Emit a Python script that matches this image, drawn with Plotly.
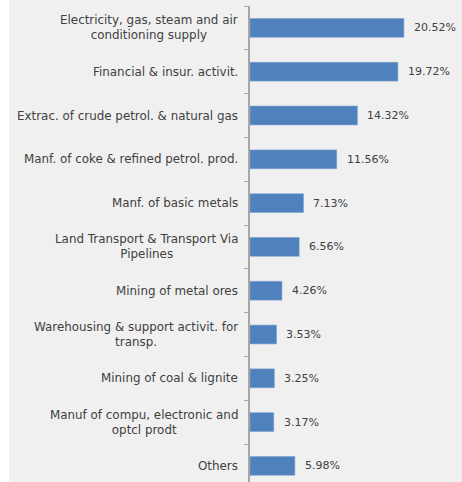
import plotly.graph_objects as go

# Sector shares (percent), listed top to bottom
sectors = [
    "Electricity, gas, steam and air<br>conditioning supply",
    "Financial & insur. activit.",
    "Extrac. of crude petrol. & natural gas",
    "Manf. of coke & refined petrol. prod.",
    "Manf. of basic metals",
    "Land Transport & Transport Via<br>Pipelines",
    "Mining of metal ores",
    "Warehousing & support activit. for<br>transp.",
    "Mining of coal & lignite",
    "Manuf of compu, electronic and<br>optcl prodt",
    "Others",
]
shares = [20.52, 19.72, 14.32, 11.56, 7.13, 6.56, 4.26, 3.53, 3.25, 3.17, 5.98]

BAR_COLOR = "#4F81BD"
TEXT_COLOR = "#404040"
BG = "#F0F0F0"
FONT = "DejaVu Sans"

W, H = 462, 482
LEFT, TOP = 250, 6
ROW_PX = 43.8
PX_PER_UNIT = 7.5

plot_h = H - TOP
plot_w = W - LEFT

fig = go.Figure(
    go.Bar(
        x=shares,
        y=sectors,
        orientation="h",
        marker=dict(color=BAR_COLOR, line=dict(color="#7FA3D3", width=0.6)),
        width=0.43,
        hoverinfo="skip",
    )
)

# Percentage labels just past each bar end
for name, v in zip(sectors, shares):
    fig.add_annotation(
        x=v, y=name, text=f"{v:.2f}%", showarrow=False,
        xanchor="left", yanchor="middle", xshift=8,
        font=dict(family=FONT, size=11, color=TEXT_COLOR),
    )

# Category names, centred line by line, to the left of the axis
for name in sectors:
    fig.add_annotation(
        xref="paper", x=0, y=name, text=name, showarrow=False,
        xanchor="right", yanchor="middle", align="center", xshift=-10,
        font=dict(family=FONT, size=11.9, color=TEXT_COLOR),
    )

# White strip along the left edge of the page
fig.add_shape(
    type="rect", xref="paper", yref="paper",
    x0=-LEFT / plot_w, x1=-(LEFT - 9) / plot_w, y0=-0.05, y1=1.05,
    fillcolor="white", line=dict(width=0), layer="below",
)

fig.update_layout(
    width=W, height=H,
    margin=dict(l=LEFT, r=0, t=TOP, b=0, autoexpand=False),
    paper_bgcolor=BG, plot_bgcolor=BG,
    showlegend=False,
    font=dict(family=FONT, size=12, color=TEXT_COLOR),
    xaxis=dict(
        range=[0, plot_w / PX_PER_UNIT],
        visible=False, showgrid=False, zeroline=False,
    ),
    yaxis=dict(
        type="category",
        categoryorder="array",
        categoryarray=sectors,
        showticklabels=False,
        range=[-0.5 + plot_h / ROW_PX, -0.5],
        showline=True, linecolor="#A6A6A6", linewidth=1.5,
        ticks="outside", ticklen=4, tickcolor="#A6A6A6", tickwidth=1,
        tickson="boundaries",
        showgrid=False, zeroline=False,
        automargin=False,
    ),
)

fig.write_html("out.html")
